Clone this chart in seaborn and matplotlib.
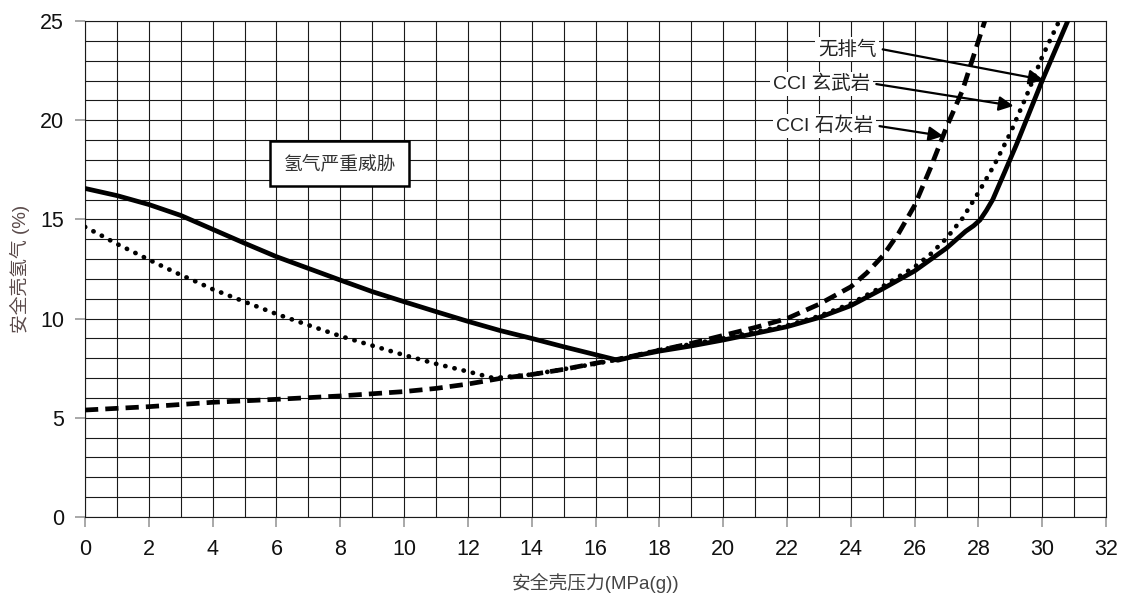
import numpy as np
import pandas as pd
import seaborn as sns
import matplotlib.pyplot as plt
from matplotlib.ticker import MultipleLocator

# 无排气 (solid)
solid_x = [0, 1, 2, 3, 4, 5, 6, 7, 8, 9, 10, 11, 12, 13, 14, 15, 16, 16.7,
           17.4, 18, 19, 20, 21, 22, 23, 24, 25, 26, 27, 27.6, 27.85, 28.05,
           28.25, 28.45, 28.8, 29.2, 29.6, 30, 30.4, 30.8]
solid_y = [16.56, 16.2, 15.75, 15.2, 14.5, 13.8, 13.12, 12.53, 11.94, 11.36,
           10.85, 10.35, 9.86, 9.4, 9.0, 8.58, 8.18, 7.9,
           8.17, 8.36, 8.62, 8.92, 9.25, 9.59, 10.05, 10.65, 11.5, 12.4, 13.55,
           14.4, 14.68, 14.97, 15.45, 16.0, 17.3, 18.8, 20.4, 22.0, 23.5, 25.0]

# CCI 玄武岩 (dotted)
dot_x = [0, 0.5, 1, 1.5, 2, 2.5, 3, 3.5, 4, 5, 6, 7, 8, 9, 10, 11, 12, 12.8,
         14, 15, 16, 16.7, 18, 20, 22, 23, 24, 25, 26, 26.5, 27, 27.5, 28,
         28.5, 29, 29.5, 30, 30.53]
dot_y = [14.62, 14.2, 13.76, 13.37, 12.97, 12.58, 12.2, 11.85, 11.48, 10.85,
         10.23, 9.67, 9.12, 8.64, 8.16, 7.72, 7.33, 7.0,
         7.18, 7.45, 7.72, 7.95, 8.42, 9.0, 9.65, 10.12, 10.75, 11.62, 12.6,
         13.25, 14.05, 15.05, 16.35, 17.75, 19.35, 21.2, 23.2, 25.0]

# CCI 石灰岩 (dashed)
dash_x = [0, 2, 4, 6, 8, 10, 11, 12, 13, 14, 15, 16, 16.7, 18, 19, 20, 21,
          22, 23, 24, 24.5, 25, 25.5, 26, 26.5, 27, 27.5, 27.8, 28.2]
dash_y = [5.39, 5.56, 5.78, 5.93, 6.1, 6.32, 6.48, 6.7, 6.98, 7.18, 7.44,
          7.75, 7.95, 8.4, 8.75, 9.15, 9.55, 10.0, 10.72, 11.6, 12.3, 13.15,
          14.3, 15.7, 17.6, 19.65, 21.5, 23.0, 25.0]

x_ticks = list(range(0, 33, 2))
y_ticks = list(range(0, 26, 5))

sns.set_style("white")
plt.rcParams['font.family'] = ['Liberation Sans', 'Noto Sans CJK SC']

fig = plt.figure(figsize=(11.23, 5.98), dpi=100)
ax = fig.add_axes([0.0757, 0.1355, 0.9092, 0.8294])

ink = "black"
sns.lineplot(x=solid_x, y=solid_y, ax=ax, color=ink, lw=3.4, sort=False,
             estimator=None, solid_capstyle="round", solid_joinstyle="round",
             zorder=5)
sns.lineplot(x=dot_x, y=dot_y, ax=ax, color=ink, lw=3.4, sort=False,
             estimator=None, linestyle=(0, (0.05, 1.95)),
             dash_capstyle="round", zorder=4)
sns.lineplot(x=dash_x, y=dash_y, ax=ax, color=ink, lw=3.4, sort=False,
             estimator=None, linestyle=(0, (2.8, 1.5)), zorder=4)

ax.set_xlim(0, 32)
ax.set_ylim(0, 25)
ax.set_xticks(x_ticks)
ax.set_yticks(y_ticks)
ax.xaxis.set_minor_locator(MultipleLocator(1))
ax.yaxis.set_minor_locator(MultipleLocator(1))
ax.grid(True, which="both", color="#1a1a1a", lw=0.8)
ax.set_axisbelow(True)
for s in ax.spines.values():
    s.set_color("#1a1a1a")
    s.set_linewidth(0.8)
ax.tick_params(axis="both", which="major", direction="out", length=7,
               width=1.2, color="#999999", labelsize=15.5,
               labelcolor="#111111")
ax.tick_params(axis="x", which="major", pad=9)
ax.tick_params(axis="y", which="major", pad=8)
ax.tick_params(axis="both", which="minor", length=0)
ax.xaxis.set_ticks_position("bottom")
ax.yaxis.set_ticks_position("left")

ax.set_xlabel("安全壳压力(MPa(g))", fontsize=13.5, color="#444444", labelpad=9)
ax.set_ylabel("安全壳氢气 (%)", fontsize=13.5, color="#5a4a4a", labelpad=7)

ax.text(7.98, 17.8, "氢气严重威胁", fontsize=13.5, color="#333333",
        ha="center", va="center", zorder=6,
        bbox=dict(boxstyle="square,pad=0.72", fc="white", ec="black", lw=1.8))

arrow = dict(arrowstyle="-|>", color="black", lw=1.6, mutation_scale=22,
             shrinkA=0, shrinkB=0)
notes = [("无排气", 24.8, 23.57, 30.04, 22.03),
         ("CCI 玄武岩", 24.6, 21.82, 29.1, 20.72),
         ("CCI 石灰岩", 24.7, 19.7, 26.9, 19.2)]
for label, tx, ty, hx, hy in notes:
    ax.annotate("", xy=(hx, hy), xytext=(tx + 0.2, ty), arrowprops=arrow,
                zorder=7)
    ax.text(tx, ty, label, fontsize=14, ha="right", va="center",
            color="#222222", zorder=8,
            bbox=dict(boxstyle="square,pad=0.15", fc="white", ec="none"))

fig.savefig("out.png", dpi=100)
